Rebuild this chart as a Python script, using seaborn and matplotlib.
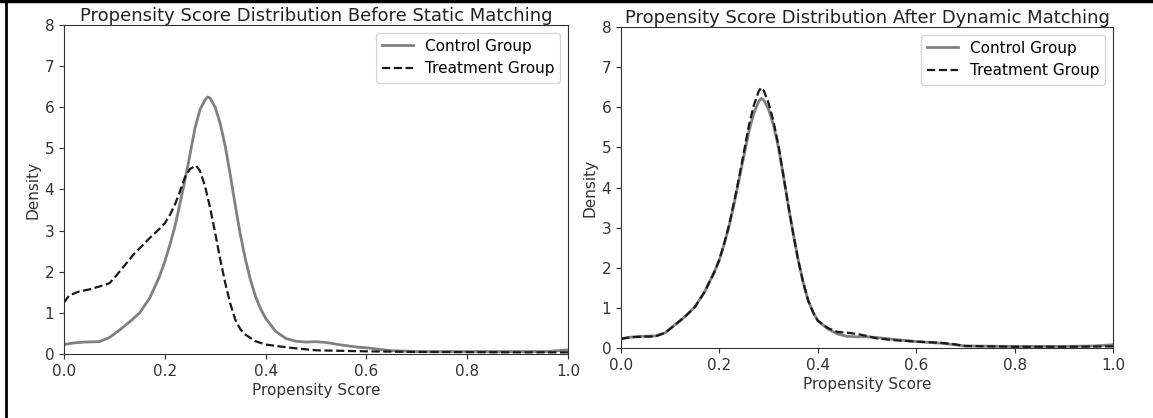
import numpy as np
import pandas as pd
import matplotlib
matplotlib.use("Agg")
import matplotlib.pyplot as plt
import seaborn as sns
from matplotlib.lines import Line2D

# ---- data (density curves) ----
before_control_x = [0.0, 0.02, 0.04, 0.07, 0.09, 0.11, 0.13, 0.15, 0.17, 0.19, 0.20, 0.21, 0.22, 0.23,
                    0.24, 0.25, 0.26, 0.27, 0.28, 0.285, 0.29, 0.30, 0.31, 0.32, 0.33, 0.34, 0.35,
                    0.36, 0.37, 0.38, 0.39, 0.40, 0.42, 0.44, 0.46, 0.48, 0.50, 0.52, 0.55, 0.58,
                    0.60, 0.65, 0.70, 0.80, 0.90, 0.96, 1.0]
before_control_y = [0.23, 0.27, 0.29, 0.30, 0.40, 0.58, 0.78, 1.00, 1.36, 1.90, 2.25, 2.65, 3.10, 3.65,
                    4.23, 4.85, 5.50, 5.95, 6.18, 6.25, 6.22, 6.00, 5.60, 5.05, 4.35, 3.60, 2.90,
                    2.30, 1.80, 1.40, 1.10, 0.87, 0.55, 0.38, 0.31, 0.29, 0.30, 0.28, 0.22, 0.17,
                    0.15, 0.08, 0.06, 0.06, 0.06, 0.06, 0.10]

before_treat_x = [0.0, 0.01, 0.03, 0.05, 0.07, 0.09, 0.10, 0.12, 0.14, 0.15, 0.17, 0.19, 0.20, 0.21,
                  0.22, 0.23, 0.24, 0.25, 0.262, 0.27, 0.28, 0.29, 0.30, 0.31, 0.32, 0.33, 0.34,
                  0.35, 0.36, 0.38, 0.40, 0.45, 0.50, 0.60, 0.70, 0.80, 0.90, 1.0]
before_treat_y = [1.25, 1.42, 1.52, 1.57, 1.64, 1.72, 1.85, 2.15, 2.45, 2.57, 2.82, 3.05, 3.18, 3.38,
                  3.63, 3.95, 4.30, 4.50, 4.58, 4.45, 4.07, 3.55, 2.94, 2.30, 1.72, 1.22, 0.83,
                  0.60, 0.47, 0.31, 0.23, 0.15, 0.09, 0.065, 0.05, 0.045, 0.04, 0.04]

after_control_x = [0.0, 0.02, 0.04, 0.07, 0.09, 0.11, 0.13, 0.15, 0.17, 0.19, 0.20, 0.21, 0.22, 0.23,
                   0.24, 0.25, 0.26, 0.27, 0.28, 0.285, 0.29, 0.30, 0.31, 0.32, 0.33, 0.34, 0.35,
                   0.36, 0.37, 0.38, 0.39, 0.40, 0.42, 0.44, 0.46, 0.48, 0.50, 0.52, 0.55, 0.60,
                   0.65, 0.70, 0.80, 0.90, 0.96, 1.0]
after_control_y = [0.23, 0.27, 0.29, 0.30, 0.38, 0.58, 0.78, 1.02, 1.40, 1.90, 2.20, 2.60, 3.05, 3.60,
                   4.20, 4.80, 5.40, 5.85, 6.15, 6.22, 6.18, 5.95, 5.55, 5.00, 4.30, 3.55, 2.85,
                   2.20, 1.65, 1.20, 0.90, 0.68, 0.48, 0.35, 0.29, 0.28, 0.28, 0.26, 0.22, 0.16,
                   0.12, 0.05, 0.04, 0.04, 0.05, 0.08]

after_treat_x = [0.0, 0.02, 0.04, 0.07, 0.09, 0.11, 0.13, 0.15, 0.17, 0.19, 0.20, 0.21, 0.22, 0.23,
                 0.24, 0.25, 0.26, 0.27, 0.28, 0.285, 0.29, 0.30, 0.31, 0.32, 0.33, 0.34, 0.35,
                 0.36, 0.37, 0.38, 0.39, 0.40, 0.42, 0.44, 0.46, 0.48, 0.50, 0.52, 0.55, 0.60,
                 0.65, 0.68, 0.70, 0.80, 0.90, 1.0]
after_treat_y = [0.23, 0.27, 0.28, 0.29, 0.38, 0.58, 0.78, 1.02, 1.40, 1.90, 2.20, 2.62, 3.08, 3.65,
                 4.25, 4.90, 5.55, 6.05, 6.40, 6.49, 6.42, 6.10, 5.65, 5.05, 4.30, 3.55, 2.85,
                 2.20, 1.65, 1.20, 0.90, 0.68, 0.50, 0.40, 0.38, 0.35, 0.30, 0.24, 0.20, 0.16,
                 0.13, 0.09, 0.05, 0.03, 0.03, 0.04]

panel_titles = ["Propensity Score Distribution Before Static Matching",
                "Propensity Score Distribution After Dynamic Matching"]
group_labels = ["Control Group", "Treatment Group"]
x_ticks = [0.0, 0.2, 0.4, 0.6, 0.8, 1.0]
y_ticks = [0, 1, 2, 3, 4, 5, 6, 7, 8]

W, H = 1153, 418
fig = plt.figure(figsize=(W / 100, H / 100), dpi=100)
fig.patch.set_facecolor("white")

# axes rectangles in pixels: left, top, right, bottom
rects = [(64, 25, 568, 354), (621, 27, 1113, 348)]
panels = [
    (before_control_x, before_control_y, before_treat_x, before_treat_y),
    (after_control_x, after_control_y, after_treat_x, after_treat_y),
]

for (l, t, r, b), (cx, cy, tx, ty), title in zip(rects, panels, panel_titles):
    ax = fig.add_axes([l / W, 1 - b / H, (r - l) / W, (b - t) / H])
    sns.lineplot(x=cx, y=cy, ax=ax, color="#808080", linewidth=2.0,
                 label=group_labels[0], sort=False)
    sns.lineplot(x=tx, y=ty, ax=ax, color="#1a1a1a", linewidth=1.6,
                 linestyle="--", label=group_labels[1], sort=False)
    ax.set_xlim(0, 1)
    ax.set_ylim(0, 8)
    ax.set_xticks(x_ticks)
    ax.set_yticks(y_ticks)
    ax.tick_params(labelsize=11, colors="#333333")
    for sp in ax.spines.values():
        sp.set_color("#333333")
    ax.set_xlabel("Propensity Score", fontsize=11, color="#333333", labelpad=3)
    ax.set_ylabel("Density", fontsize=11, color="#333333", labelpad=3)
    ax.set_title(title, fontsize=13, color="#222222", pad=2)
    ax.legend(loc="upper right", fontsize=11, frameon=True)

# black frame lines (left and top border of the screenshot)
fig.add_artist(Line2D([6 / W, 6 / W], [0, 1], transform=fig.transFigure,
                      color="black", linewidth=2))
fig.add_artist(Line2D([0, 1], [1 - 1 / H, 1 - 1 / H], transform=fig.transFigure,
                      color="black", linewidth=2.5))

fig.savefig("out.png", dpi=100)
